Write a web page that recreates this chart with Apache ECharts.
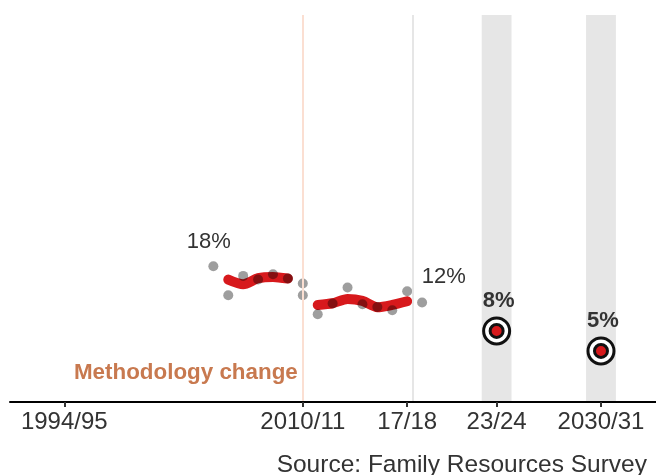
<!DOCTYPE html>
<html>
<head>
<meta charset="utf-8">
<script src="https://cdn.jsdelivr.net/npm/echarts@6/dist/echarts.min.js"></script>
<style>html,body{margin:0;padding:0;background:#fff;}#c{width:656px;height:475px;}</style>
</head>
<body>
<div id="c"></div>
<script>
// ---- data ----
const dotYears  = [2004, 2005, 2006, 2007, 2008, 2009, 2010, 2010, 2011, 2012, 2013, 2014, 2015, 2016, 2017, 2018];
const dotValues = [17.7, 13.35, 16.25, 15.7, 16.5, 15.85, 15.1, 13.35, 10.5, 12.1, 14.5, 12.0, 11.6, 11.1, 13.95, 12.25];

const trendYearsA  = [2005, 2006, 2007, 2008, 2009];
const trendValuesA = [15.7, 15.0, 15.9, 16.1, 15.85];
const trendYearsB  = [2011, 2012, 2013, 2014, 2015, 2016, 2017];
const trendValuesB = [11.9, 12.15, 12.8, 12.5, 11.55, 11.9, 12.45];

const targetYears  = [2023, 2030];
const targetValues = [8, 5];
const targetLabels = ['8%', '5%'];

const tickYears  = [1994, 2010, 2017, 2023, 2030];
const tickLabels = ['1994/95', '2010/11', '17/18', '23/24', '2030/31'];

const methodologyYear = 2010;
const latestDataLine = 2017.35;
const bandRanges = [[2022, 2024], [2029, 2031]];

const endLabelYears  = [2004, 2018];
const endLabelValues = [17.7, 12.25];
const endLabelTexts  = ['18%', '12%'];

// ---- chart ----
const chart = echarts.init(document.getElementById('c'), null, {renderer: 'canvas'});
const FONT = '"Liberation Sans", Arial, sans-serif';
const TXT = '#333333';

const labelMap = {};
tickYears.forEach((y, i) => { labelMap[y] = tickLabels[i]; });

const option = {
  animation: false,
  backgroundColor: '#ffffff',
  title: {
    text: 'Source: Family Resources Survey',
    right: 4, top: 448,
    textStyle: {fontFamily: FONT, fontSize: 24.5, fontWeight: 'normal', color: '#333333'}
  },
  grid: {left: 10, right: 0, top: 15, bottom: 73, containLabel: false},
  xAxis: {
    type: 'value', min: 1990.36, max: 2033.69, z: 10,
    splitLine: {show: false},
    axisLine: {show: true, onZero: false, lineStyle: {color: '#000', width: 2}},
    axisTick: {show: true, customValues: tickYears, length: 5, inside: false, lineStyle: {color: '#333', width: 2}},
    axisLabel: {
      customValues: tickYears, margin: 8,
      fontFamily: FONT, fontSize: 24, color: TXT,
      formatter: v => labelMap[Math.round(v)] || ''
    }
  },
  yAxis: {
    type: 'value', min: -2.65, max: 55.35, show: false,
    splitLine: {show: false}
  },
  series: [
    {
      type: 'line', name: 'bands', data: [], silent: true, z: 1,
      markArea: {
        silent: true,
        itemStyle: {color: '#e6e6e6', opacity: 1},
        data: bandRanges.map(r => [{xAxis: r[0]}, {xAxis: r[1]}])
      },
      markLine: {
        silent: true, symbol: 'none', label: {show: false},
        data: [
          {xAxis: methodologyYear, lineStyle: {color: '#fbdfd2', width: 2, type: 'solid', opacity: 1}},
          {xAxis: latestDataLine, lineStyle: {color: '#e6e6e6', width: 2, type: 'solid', opacity: 1}}
        ]
      }
    },
    {
      type: 'line', name: 'trendA', z: 3, symbol: 'none', smooth: 0.25,
      lineStyle: {color: '#d7191c', width: 10, cap: 'round', join: 'round', opacity: 1},
      data: trendYearsA.map((y, i) => [y, trendValuesA[i]])
    },
    {
      type: 'line', name: 'trendB', z: 3, symbol: 'none', smooth: 0.25,
      lineStyle: {color: '#d7191c', width: 10, cap: 'round', join: 'round', opacity: 1},
      data: trendYearsB.map((y, i) => [y, trendValuesB[i]])
    },
    {
      type: 'scatter', name: 'points', z: 4, symbolSize: 10,
      itemStyle: {color: 'rgba(0,0,0,0.38)', opacity: 1},
      data: dotYears.map((y, i) => [y, dotValues[i]])
    },
    {
      type: 'scatter', name: 'endLabels', z: 5, symbolSize: 0,
      itemStyle: {color: 'rgba(0,0,0,0)', opacity: 1},
      label: {
        show: true, position: 'inside',
        fontFamily: FONT, fontSize: 22, color: TXT,
        formatter: p => endLabelTexts[p.dataIndex]
      },
      data: endLabelYears.map((y, i) => ({
        value: [y, endLabelValues[i]],
        label: {offset: i === 0 ? [-4.6, -24] : [21.6, -25.5]}
      }))
    },
    {
      type: 'scatter', name: 'targetOuter', z: 6, symbolSize: 26,
      itemStyle: {color: '#ffffff', borderColor: '#111111', borderWidth: 3, opacity: 1},
      label: {
        show: true, position: 'inside', offset: [2, -30],
        fontFamily: FONT, fontSize: 22, fontWeight: 'bold', color: TXT,
        formatter: p => targetLabels[p.dataIndex]
      },
      data: targetYears.map((y, i) => [y, targetValues[i]])
    },
    {
      type: 'scatter', name: 'targetInner', z: 7, symbolSize: 13,
      itemStyle: {color: '#d7191c', borderColor: '#111111', borderWidth: 3, opacity: 1},
      data: targetYears.map((y, i) => [y, targetValues[i]])
    },
    {
      type: 'scatter', name: 'methodNote', z: 5, symbolSize: 0,
      itemStyle: {color: 'rgba(0,0,0,0)', opacity: 1},
      label: {
        show: true, position: 'left', distance: 5,
        fontFamily: FONT, fontSize: 22.4, fontWeight: 'bold', color: '#c8794f',
        formatter: 'Methodology change'
      },
      data: [[methodologyYear, 1.75]]
    }
  ]
};
chart.setOption(option);
</script>
</body>
</html>
